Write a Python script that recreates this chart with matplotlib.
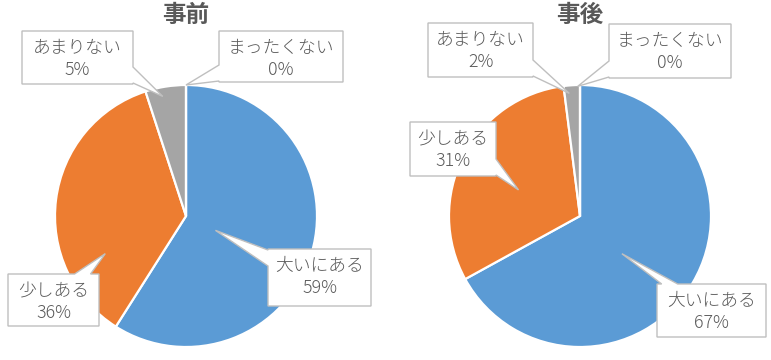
import matplotlib.pyplot as plt
from matplotlib.patches import Polygon
import numpy as np

plt.rcParams['font.family'] = ['Noto Sans CJK JP', 'DejaVu Sans']

# data
categories = ["大いにある", "少しある", "あまりない", "まったくない"]
before = [59, 36, 5, 0]
after = [67, 31, 2, 0]
titles = ["事前", "事後"]
colors = ["#5B9BD5", "#ED7D31", "#A5A5A5", "#FFC000"]

W, H = 771, 360

# layout (pixels, y measured from top)
centers = [(186, 216), (580, 216)]
radius = 131
# callout boxes: x0, y0, x1, y1
boxes = [
    [(268, 249, 371, 306), (8, 274, 99, 326), (22, 31, 133, 84), (219, 31, 343, 82)],
    [(657, 284, 766, 337), (410, 122, 496, 176), (428, 23, 533, 77), (609, 24, 731, 78)],
]
# pointer tips: (angle deg, fraction of radius) from pie center
tips = [
    [(-26, 0.25), (205, 0.68), (101, 0.93), (90, 1.0)],
    [(-42, 0.43), (157, 0.51), (95, 0.94), (91, 0.99)],
]


def Y(y):
    return H - y


def callout(ax, box, tip, label, pct):
    x0, y0, x1, y1 = box
    cx, cy = (x0 + x1) / 2, (y0 + y1) / 2
    dx, dy = tip[0] - cx, tip[1] - cy
    w = 8
    tx = (x1 - cx) / abs(dx) if dx else np.inf
    ty = (y1 - cy) / abs(dy) if dy else np.inf
    if tx < ty:
        b = np.clip(cy + dy * tx, y0 + w + 1, y1 - w - 1)
        if dx > 0:
            pts = [(x0, y0), (x1, y0), (x1, b - w), tip, (x1, b + w), (x1, y1), (x0, y1)]
        else:
            pts = [(x0, y0), (x1, y0), (x1, y1), (x0, y1), (x0, b + w), tip, (x0, b - w)]
    else:
        b = np.clip(cx + dx * ty, x0 + w + 1, x1 - w - 1)
        if dy < 0:
            pts = [(x0, y0), (b - w, y0), tip, (b + w, y0), (x1, y0), (x1, y1), (x0, y1)]
        else:
            pts = [(x0, y0), (x1, y0), (x1, y1), (b + w, y1), tip, (b - w, y1), (x0, y1)]
    pts = [(px, Y(py)) for px, py in pts]
    ax.add_patch(Polygon(pts, closed=True, facecolor='white', edgecolor='#BFBFBF',
                         linewidth=1, zorder=5))
    ax.text(cx, Y(y0 + 17), label, ha='center', va='center', fontsize=12.8,
            fontweight='light', color='#595959', zorder=6)
    ax.text(cx, Y(y0 + 39), pct, ha='center', va='center', fontsize=12.8,
            fontweight='light', color='#595959', zorder=6)


fig = plt.figure(figsize=(W / 100, H / 100), dpi=100)
ax = fig.add_axes([0, 0, 1, 1])

for i, values in enumerate([before, after]):
    cx, cy = centers[i]
    ax.pie(values, colors=colors, startangle=90, counterclock=False,
           center=(cx, Y(cy)), radius=radius, frame=True,
           wedgeprops=dict(edgecolor='white', linewidth=1.6))
    ax.text(cx, Y(15), titles[i], ha='center', va='center', fontsize=17,
            fontweight='bold', color='#595959')
    total = sum(values)
    for j, cat in enumerate(categories):
        ang, frac = tips[i][j]
        a = np.radians(ang)
        tip = (cx + frac * radius * np.cos(a), cy - frac * radius * np.sin(a))
        callout(ax, boxes[i][j], tip, cat, f"{round(values[j] / total * 100)}%")

ax.set_xlim(0, W)
ax.set_ylim(0, H)
ax.set_aspect('auto')
ax.axis('off')
fig.savefig("out.png", dpi=100, facecolor='white')
